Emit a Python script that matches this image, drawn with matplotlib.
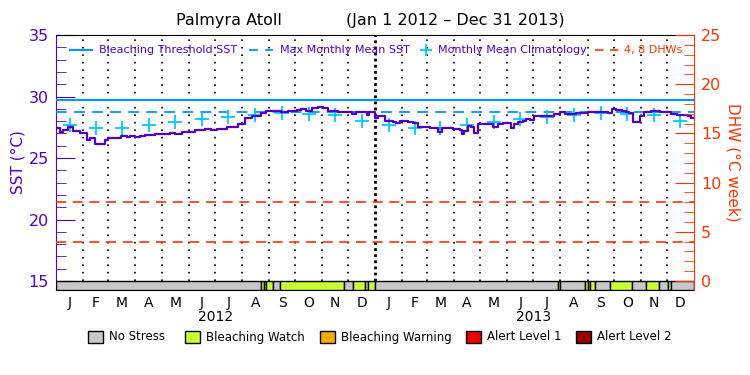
import numpy as np
import matplotlib
matplotlib.use("Agg")
import matplotlib.pyplot as plt
from matplotlib.patches import Rectangle

# ---------------- data ----------------
sst_day = [0, 1, 5, 8, 14, 20, 27, 32, 35, 39, 45, 52, 56, 60, 68, 71, 75, 81, 85, 90,
           96, 102, 113, 121, 131, 136, 144, 151, 159, 171, 178, 184, 190, 196, 205, 209,
           216, 224, 230, 235, 241, 251, 258, 266, 276, 281, 287, 293, 300, 306, 312, 323,
           335, 339, 344, 352, 356, 359, 365, 369, 377, 386, 390, 394, 403, 409, 415, 422,
           428, 434, 438, 442, 449, 455, 463, 465, 468, 472, 476, 479, 483, 497, 501, 506,
           512, 518, 521, 525, 529, 535, 539, 543, 548, 558, 566, 571, 577, 583, 590, 596,
           602, 609, 615, 629, 633, 637, 642, 648, 653, 657, 661, 665, 669, 674, 682, 688,
           692, 699, 705, 711, 716, 724, 728, 730]
sst_val = [27.45, 27.41, 27.09, 27.28, 27.54, 27.20, 27.06, 27.06, 26.46, 26.60, 26.11, 26.11,
           26.46, 26.65, 26.65, 26.60, 26.81, 26.71, 26.81, 26.68, 26.81, 26.87, 26.93, 26.95,
           27.06, 26.93, 27.14, 27.09, 27.30, 27.36, 27.25, 27.36, 27.33, 27.54, 27.54, 27.74,
           28.28, 28.39, 28.44, 28.63, 28.85, 28.82, 28.76, 28.85, 28.88, 28.98, 28.85, 29.09,
           29.17, 29.04, 28.82, 28.76, 28.72, 28.55, 28.76, 28.76, 28.50, 28.76, 28.28, 28.44,
           28.01, 27.95, 27.82, 28.01, 27.95, 27.82, 27.54, 27.54, 27.41, 27.41, 27.14, 27.41,
           27.41, 27.33, 27.28, 26.95, 27.20, 27.63, 27.50, 27.01, 27.74, 27.74, 27.54, 27.74,
           27.82, 27.87, 27.41, 27.74, 27.90, 28.01, 28.15, 28.09, 28.44, 28.39, 28.39, 28.55,
           28.76, 28.55, 28.55, 28.63, 28.69, 28.72, 28.76, 28.72, 28.63, 28.98, 28.92, 28.85,
           28.76, 28.63, 27.95, 27.95, 28.44, 28.72, 28.85, 28.85, 28.76, 28.72, 28.55, 28.50,
           28.50, 28.44, 28.28, 28.22]

clim_month = ["J", "F", "M", "A", "M", "J", "J", "A", "S", "O", "N", "D"]
clim_val = [27.66, 27.46, 27.46, 27.66, 27.90, 28.20, 28.36, 28.52, 28.68, 28.60, 28.52, 28.03]
years = ["2012", "2013"]

mmm = 28.7
threshold = 29.7
dhw_levels = [4, 8]

stress_start = [0, 234.7, 237.8, 240.4, 248.8, 256.5, 329.7, 340.4, 353.8, 357.6, 366,
                575, 578, 605.6, 609.6, 611.5, 617.1, 635.1, 659.8, 676.3, 690.8, 701, 704.9]
stress_level = [0, 1, 0, 1, 0, 1, 0, 1, 0, 1, 0, 1, 0, 1, 0, 1, 0, 1, 0, 1, 0, 1, 0]
n_days = 731

stress_names = ["No Stress", "Bleaching Watch", "Bleaching Warning", "Alert Level 1", "Alert Level 2"]
stress_colors = ["#c8c8c8", "#ccff33", "#ffaa00", "#ee0000", "#990000"]

# ---------------- styles ----------------
PURPLE = "#5000c8"
ORANGE = "#ff3300"
BLUE = "#0096ff"
CYAN = "#00c8ff"

# month starts as day offsets
mstarts = (np.arange("2012-01", "2014-02", dtype="datetime64[M]").astype("datetime64[D]")
           - np.datetime64("2012-01-01")).astype(int)
mmid = (mstarts[:-1] + mstarts[1:]) / 2.0

fig = plt.figure(figsize=(7.5, 3.75), dpi=100)
ax = fig.add_axes([56/750, 1-290/375, (694-56)/750, (290-35)/375])
ymin, ymax = 14.27, 35.0
ax.set_xlim(0, n_days)
ax.set_ylim(ymin, ymax)

# stress bar
ends = stress_start[1:] + [n_days]
for s, e, lv in zip(stress_start, ends, stress_level):
    ax.add_patch(Rectangle((s, ymin), e - s, 15 - ymin, facecolor=stress_colors[lv],
                           edgecolor="black", linewidth=1, zorder=3))

# dotted month lines
for m in mstarts[1:-1]:
    if m == 366:
        ax.plot([m, m], [15, ymax], color="black", lw=2, ls=(0, (1, 1.2)), zorder=2)
    else:
        ax.plot([m, m], [15, ymax], color="black", lw=1.2, ls=(0, (1, 3.5)), zorder=2)

# reference lines
ax.axhline(threshold, color=BLUE, lw=1.5, zorder=4)
ax.axhline(mmm, color=BLUE, lw=1.3, ls=(0, (6, 4)), zorder=4)
for d in dhw_levels:
    ax.axhline(15 + d / 1.25, color=ORANGE, lw=1.2, ls=(0, (6, 4)), zorder=4)

# climatology crosses
clim_x = mmid[:24]
clim_y = clim_val + clim_val
ax.plot(clim_x, clim_y, ls="none", marker="+", ms=10, mew=1.3, color=CYAN, zorder=5)

# SST line
ax.plot(sst_day, sst_val, color=PURPLE, lw=1.6, drawstyle="steps-post", zorder=6)

# axes styling
for side in ["top", "bottom"]:
    ax.spines[side].set_color("black")
ax.spines["left"].set_color(PURPLE)
ax.spines["right"].set_visible(False)
ax.set_xticks([])
ax.set_yticks([15, 20, 25, 30, 35])
ax.set_yticks(np.arange(15, 36, 1), minor=True)
ax.tick_params(axis="y", which="major", direction="in", length=14, color=PURPLE,
               labelcolor=PURPLE, labelsize=11.5, pad=5)
ax.tick_params(axis="y", which="minor", direction="in", length=7, color=PURPLE)
ax.set_ylabel("SST (°C)", color=PURPLE, fontsize=11, labelpad=2)

ax2 = ax.twinx()
ax2.set_ylim((ymin - 15) * 1.25, (ymax - 15) * 1.25)
for side in ["top", "bottom", "left"]:
    ax2.spines[side].set_visible(False)
ax2.spines["right"].set_color(ORANGE)
ax2.set_yticks([0, 5, 10, 15, 20, 25])
ax2.set_yticks(np.arange(0, 26, 1), minor=True)
ax2.tick_params(axis="y", which="major", direction="in", length=14, color=ORANGE,
                labelcolor=ORANGE, labelsize=11.5, pad=5)
ax2.tick_params(axis="y", which="minor", direction="in", length=7, color=ORANGE)
ax2.set_ylabel("DHW (°C week)", color=ORANGE, fontsize=11, rotation=-90, labelpad=14)

# month and year labels
for i, x in enumerate(mmid[:24]):
    ax.text(x, -0.022, clim_month[i % 12], transform=ax.get_xaxis_transform(),
            ha="center", va="top", fontsize=10, color="black")
for j, yr in enumerate(years):
    ax.text(np.mean(mmid[12*j:12*j+12]), -0.08, yr, transform=ax.get_xaxis_transform(),
            ha="center", va="top", fontsize=10, color="black")

# title
fig.text(229/750, 1-21/375, "Palmyra Atoll", ha="center", va="center", fontsize=11.5)
fig.text(455/750, 1-21/375, "(Jan 1 2012 \u2013 Dec 31 2013)", ha="center", va="center", fontsize=11.5)

# top legend
ly = 1 - 50/375
fig.add_artist(plt.Line2D([70/750, 92/750], [ly, ly], color=BLUE, lw=1.5))
fig.text(99/750, ly, "Bleaching Threshold SST", color=PURPLE, fontsize=8, va="center")
fig.add_artist(plt.Line2D([249/750, 273/750], [ly, ly], color=BLUE, lw=1.3, ls=(0, (5, 4))))
fig.text(280/750, ly, "Max Monthly Mean SST", color=PURPLE, fontsize=8, va="center")
fig.add_artist(plt.Line2D([426/750], [ly], color=CYAN, marker="+", ms=9, mew=1.3, ls="none"))
fig.text(438/750, ly, "Monthly Mean Climatology", color=PURPLE, fontsize=8, va="center")
fig.add_artist(plt.Line2D([595/750, 619/750], [ly, ly], color=ORANGE, lw=1.2, ls=(0, (5, 4))))
fig.text(624/750, ly, "4, 8 DHWs", color=ORANGE, fontsize=8, va="center")

# stress legend
box_x = [88, 185, 320, 466, 576]
by = 1 - 337/375
for bx, name, col in zip(box_x, stress_names, stress_colors):
    fig.add_artist(Rectangle((bx/750, by - 6/375), 15/750, 12/375, facecolor=col,
                             edgecolor="black", lw=1, transform=fig.transFigure))
    fig.text((bx + 21)/750, by, name, fontsize=8.5, va="center", color="black")

fig.savefig("out.png", dpi=100)
